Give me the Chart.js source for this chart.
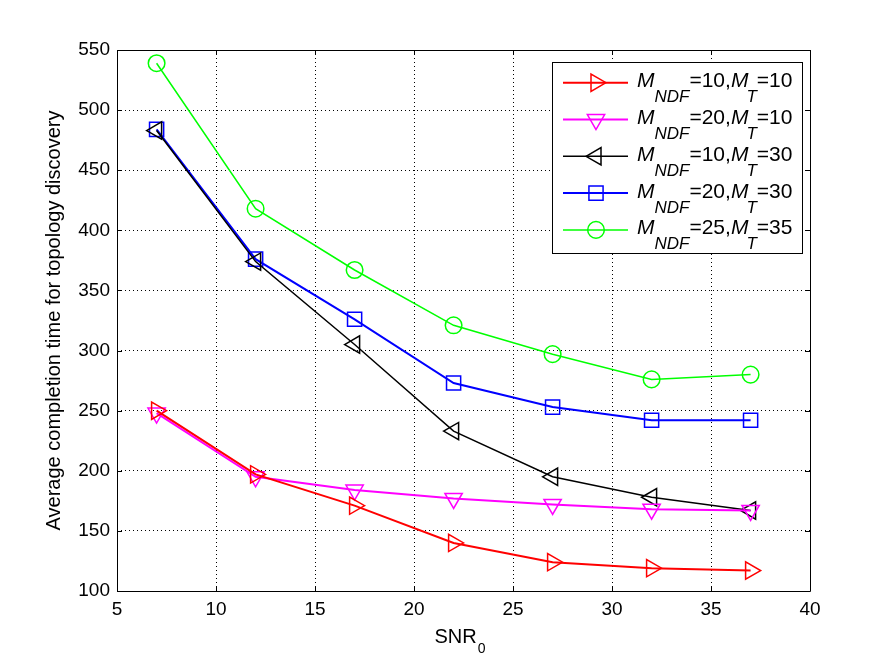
<!DOCTYPE html>
<html>
<head>
<meta charset="utf-8">
<script src="https://cdn.jsdelivr.net/npm/chart.js@4.4.1/dist/chart.umd.min.js"></script>
<style>
  html, body { margin: 0; padding: 0; background: #fff; }
  #wrap { width: 895px; height: 664px; }
</style>
</head>
<body>
<div id="wrap"><canvas id="myChart" width="895" height="664"></canvas></div>
<script>
  // SNR_0 values on the x axis
  const snr = [7, 12, 17, 22, 27, 32, 37];

  // average completion time, one array per (M_NDF, M_T) pair
  const ndf10t10 = [250, 197, 171, 140, 124, 119, 117];
  const ndf20t10 = [248, 195, 184, 177, 172, 168, 167];
  const ndf10t30 = [483, 374, 305, 233, 195, 178, 167];
  const ndf20t30 = [484, 376, 326, 273, 253, 242, 242];
  const ndf25t35 = [539, 418, 367, 321, 297, 276, 280];

  const legendNdf = [10, 20, 10, 20, 25];
  const legendT = [10, 10, 30, 30, 35];

  const xTicks = [5, 10, 15, 20, 25, 30, 35, 40];
  const yTicks = [100, 150, 200, 250, 300, 350, 400, 450, 500, 550];

  const FONT = "'Liberation Sans', Arial, Helvetica, sans-serif";

  function pts(values) {
    return snr.map((x, i) => ({ x: x, y: values[i] }));
  }

  function series(values, color, style, rot, width) {
    return {
      data: pts(values),
      borderColor: color,
      borderWidth: width,
      pointStyle: style,
      rotation: rot,
      pointRadius: style === 'circle' ? 8.3 : 10,
      pointBorderColor: color,
      pointBackgroundColor: 'rgba(0,0,0,0)',
      pointBorderWidth: 1.5,
      tension: 0
    };
  }

  const datasets = [
    series(ndf10t10, '#ff0000', 'triangle', 90, 2),
    series(ndf20t10, '#ff00ff', 'triangle', 180, 2),
    series(ndf10t30, '#000000', 'triangle', 270, 1.5),
    series(ndf20t30, '#0000ff', 'rect', 0, 2),
    series(ndf25t35, '#00ff00', 'circle', 0, 1.5)
  ];

  // frame, inward ticks, x title with subscript, legend with subscripts
  const matlabLook = {
    id: 'matlabLook',
    afterDraw(chart) {
      const c = chart.ctx;
      const a = chart.chartArea;
      const xs = chart.scales.x;
      const ys = chart.scales.y;
      const tl = 5;
      c.save();
      c.strokeStyle = '#000';
      c.lineWidth = 1;
      c.beginPath();
      c.rect(Math.round(a.left) + 0.5, Math.round(a.top) + 0.5,
             Math.round(a.right - a.left), Math.round(a.bottom - a.top));
      xTicks.forEach(v => {
        const px = Math.round(xs.getPixelForValue(v)) + 0.5;
        c.moveTo(px, a.bottom); c.lineTo(px, a.bottom - tl);
        c.moveTo(px, a.top); c.lineTo(px, a.top + tl);
      });
      yTicks.forEach(v => {
        const py = Math.round(ys.getPixelForValue(v)) + 0.5;
        c.moveTo(a.left, py); c.lineTo(a.left + tl, py);
        c.moveTo(a.right, py); c.lineTo(a.right - tl, py);
      });
      c.stroke();

      // x axis title: SNR_0
      c.fillStyle = '#000';
      c.textBaseline = 'alphabetic';
      c.textAlign = 'left';
      c.font = '20px ' + FONT;
      const w1 = c.measureText('SNR').width;
      c.font = '14px ' + FONT;
      const w2 = c.measureText('0').width;
      const sx = (a.left + a.right) / 2 - (w1 + w2) / 2 - 4;
      c.font = '20px ' + FONT;
      c.fillText('SNR', sx, 643);
      c.font = '14px ' + FONT;
      c.fillText('0', sx + w1 + 1, 653);

      // legend
      const bx = 552, by = 62, bw = 250, bh = 191;
      c.fillStyle = '#fff';
      c.fillRect(bx, by, bw, bh);
      c.strokeStyle = '#000';
      c.lineWidth = 1;
      c.strokeRect(bx + 0.5, by + 0.5, bw, bh);
      datasets.forEach((ds, i) => {
        const cy = 82.7 + i * 36.8;
        c.strokeStyle = ds.borderColor;
        c.lineWidth = ds.borderWidth;
        c.beginPath();
        c.moveTo(563, cy); c.lineTo(628, cy);
        c.stroke();
        c.fillStyle = 'rgba(0,0,0,0)';
        c.lineWidth = ds.pointBorderWidth;
        Chart.helpers.drawPoint(c, {
          pointStyle: ds.pointStyle,
          rotation: ds.rotation,
          radius: ds.pointRadius,
          borderWidth: ds.pointBorderWidth
        }, 596, cy);

        const base = cy + 4.5;
        let tx = 637;
        c.fillStyle = '#000';
        const part = (txt, font, dy) => {
          c.font = font;
          c.fillText(txt, tx, base + dy);
          tx += c.measureText(txt).width;
        };
        part('M', 'italic 21px ' + FONT, 0);
        part('NDF', 'italic 17px ' + FONT, 15);
        part('=' + legendNdf[i] + ',', '21px ' + FONT, 0);
        part('M', 'italic 21px ' + FONT, 0);
        tx -= 2;
        part('T', 'italic 17px ' + FONT, 15);
        part('=' + legendT[i], '21px ' + FONT, 0);
      });
      c.restore();
    }
  };

  new Chart(document.getElementById('myChart'), {
    type: 'line',
    data: { datasets: datasets },
    options: {
      responsive: false,
      animation: false,
      events: [],
      layout: { padding: { top: 50, right: 85, left: 0, bottom: 0 } },
      plugins: {
        legend: { display: false },
        tooltip: { enabled: false }
      },
      scales: {
        x: {
          type: 'linear',
          min: 5,
          max: 40,
          afterBuildTicks: s => { s.ticks = xTicks.map(v => ({ value: v })); },
          afterFit: s => { s.height = 73; },
          ticks: {
            color: '#000',
            padding: 7,
            maxRotation: 0,
            font: { family: FONT, size: 19 }
          },
          grid: { color: '#000', lineWidth: 1, drawTicks: false },
          border: { display: false, dash: [1, 3] }
        },
        y: {
          type: 'linear',
          min: 100,
          max: 550,
          afterBuildTicks: s => { s.ticks = yTicks.map(v => ({ value: v })); },
          afterFit: s => { s.width = 117; },
          ticks: {
            color: '#000',
            padding: 7,
            font: { family: FONT, size: 19 }
          },
          grid: { color: '#000', lineWidth: 1, drawTicks: false },
          border: { display: false, dash: [1, 3] },
          title: {
            display: true,
            text: 'Average completion time for topology discovery',
            color: '#000',
            font: { family: FONT, size: 20 },
            padding: { top: 42, bottom: 0 }
          }
        }
      }
    },
    plugins: [matlabLook]
  });
</script>
</body>
</html>
